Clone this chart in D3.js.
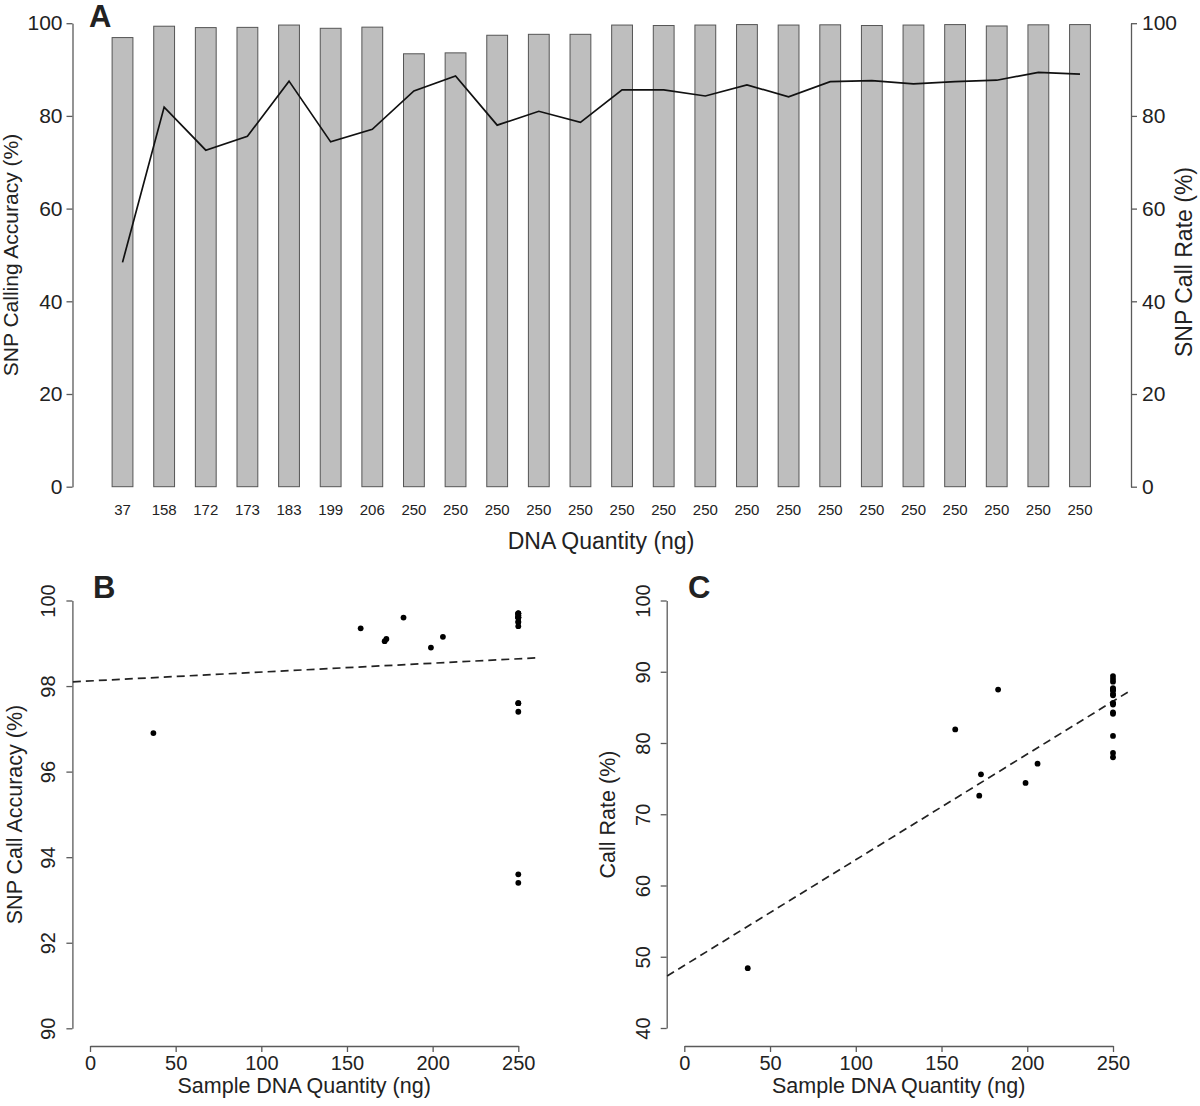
<!DOCTYPE html>
<html><head><meta charset="utf-8">
<script src="https://cdn.jsdelivr.net/npm/d3@7"></script>
<style>
body{margin:0;background:#fff}
svg{display:block}
text{font-family:"Liberation Sans",Arial,Helvetica,sans-serif;fill:#222}
</style>
</head><body>
<svg id="chart" width="1200" height="1106"></svg>
<script>
// ---- data ----
const dnaQty = [37,158,172,173,183,199,206,250,250,250,250,250,250,250,250,250,250,250,250,250,250,250,250,250];
const accuracy = [96.9,99.35,99.05,99.1,99.6,98.9,99.15,93.4,93.6,97.4,97.6,97.6,99.6,99.5,99.6,99.7,99.6,99.65,99.5,99.6,99.7,99.4,99.65,99.7];
const callRate = [48.4,81.9,72.6,75.6,87.5,74.4,77.1,85.4,88.6,78.0,81.0,78.6,85.6,85.6,84.3,86.7,84.1,87.4,87.6,86.9,87.4,87.7,89.4,89.0];
const ticksA = [0,20,40,60,80,100];
const ticksX = [0,50,100,150,200,250];
const ticksBy = [90,92,94,96,98,100];
const ticksCy = [40,50,60,70,80,90,100];
const trendB = [98.12, 0.00207];   // intercept, slope
const trendC = [48.78, 0.1483];
const trendRange = [-10, 260];

const svg = d3.select("#chart");
const AX = "#5a5a5a";

function styleAxis(g, fs){
  g.selectAll("path.domain").attr("stroke",AX).attr("stroke-width",1.3);
  g.selectAll(".tick line").attr("stroke",AX).attr("stroke-width",1.3);
  g.selectAll(".tick text").style("font-size",fs+"px").attr("fill","#222");
}

// ---------------- Panel A ----------------
const xA = d3.scaleBand().domain(d3.range(dnaQty.length)).range([101.7,1100.8]).paddingInner(0.5).paddingOuter(0.25);
const yA = d3.scaleLinear().domain([0,100]).range([486.7,23.2]);
const bw = xA.bandwidth();

svg.append("g").selectAll("rect").data(accuracy).join("rect")
  .attr("x",(d,i)=>xA(i)).attr("y",d=>yA(d))
  .attr("width",bw).attr("height",d=>yA(0)-yA(d))
  .attr("fill","#bebebe").attr("stroke","#555").attr("stroke-width",1);

svg.append("path").datum(callRate)
  .attr("fill","none").attr("stroke","#111").attr("stroke-width",1.7)
  .attr("d",d3.line().x((d,i)=>xA(i)+bw/2).y(d=>yA(d)));

svg.append("g").selectAll("text").data(dnaQty).join("text")
  .attr("x",(d,i)=>xA(i)+bw/2).attr("y",515)
  .attr("text-anchor","middle").style("font-size","15px").text(d=>d);

const gAL = svg.append("g").attr("transform","translate(72.5,0)")
  .call(d3.axisLeft(yA).tickValues(ticksA).tickSize(6).tickSizeOuter(0).tickPadding(4));
styleAxis(gAL, 21);
const gAR = svg.append("g").attr("transform","translate(1131,0)")
  .call(d3.axisRight(yA).tickValues(ticksA).tickSize(6).tickSizeOuter(0).tickPadding(5));
styleAxis(gAR, 21);

svg.append("text").attr("transform","translate(18,255) rotate(-90)")
  .attr("text-anchor","middle").style("font-size","21px").text("SNP Calling Accuracy (%)");
svg.append("text").attr("transform","translate(1192,262) rotate(-90)")
  .attr("text-anchor","middle").style("font-size","23px").text("SNP Call Rate (%)");
svg.append("text").attr("x",601).attr("y",549)
  .attr("text-anchor","middle").style("font-size","23px").text("DNA Quantity (ng)");
svg.append("text").attr("x",89).attr("y",27)
  .style("font-size","31px").style("font-weight","bold").attr("fill","#111").text("A");

// ---------------- scatter panels ----------------
function scatter(opts){
  const {x0,x250,yTop,yBot,yDom,yTicks,axisX,vals,trend,title,titleX,letter,letterX} = opts;
  const xs = d3.scaleLinear().domain([0,250]).range([x0,x250]);
  const ys = d3.scaleLinear().domain(yDom).range([yBot,yTop]);
  const gy = svg.append("g").attr("transform",`translate(${axisX},0)`)
    .call(d3.axisLeft(ys).tickValues(yTicks).tickSize(6).tickSizeOuter(0));
  styleAxis(gy, 20);
  gy.selectAll(".tick text").attr("x",null).attr("dy",null).attr("y",null)
    .attr("text-anchor","middle").attr("transform","translate(-17,0) rotate(-90)");
  const gx = svg.append("g").attr("transform","translate(0,1046)")
    .call(d3.axisBottom(xs).tickValues(ticksX).tickSize(6).tickSizeOuter(0));
  styleAxis(gx, 20);
  gx.selectAll(".tick text").attr("dy",null).attr("y",24);
  svg.append("line")
    .attr("x1",xs(trendRange[0])).attr("y1",ys(trend[0]+trend[1]*trendRange[0]))
    .attr("x2",xs(trendRange[1])).attr("y2",ys(trend[0]+trend[1]*trendRange[1]))
    .attr("stroke","#222").attr("stroke-width",1.7).attr("stroke-dasharray","8,5");
  svg.append("g").selectAll("circle").data(vals).join("circle")
    .attr("cx",(d,i)=>xs(dnaQty[i])).attr("cy",d=>ys(d)).attr("r",2.9).attr("fill","#000");
  svg.append("text").attr("x",(xs(-10)+xs(260))/2).attr("y",1093)
    .attr("text-anchor","middle").style("font-size","21.5px").text("Sample DNA Quantity (ng)");
  svg.append("text").attr("transform",`translate(${titleX},814.5) rotate(-90)`)
    .attr("text-anchor","middle").style("font-size","21.5px").text(title);
  svg.append("text").attr("x",letterX).attr("y",598)
    .style("font-size","31px").style("font-weight","bold").attr("fill","#111").text(letter);
}

scatter({x0:90,x250:518.3,yTop:600.5,yBot:1028.3,yDom:[90,100],yTicks:ticksBy,axisX:72.4,
  vals:accuracy,trend:trendB,title:"SNP Call Accuracy (%)",titleX:22,letter:"B",letterX:93});
scatter({x0:684.3,x250:1113,yTop:600.5,yBot:1028,yDom:[40,100],yTicks:ticksCy,axisX:666.7,
  vals:callRate,trend:trendC,title:"Call Rate (%)",titleX:615,letter:"C",letterX:688});
</script>
</body></html>
